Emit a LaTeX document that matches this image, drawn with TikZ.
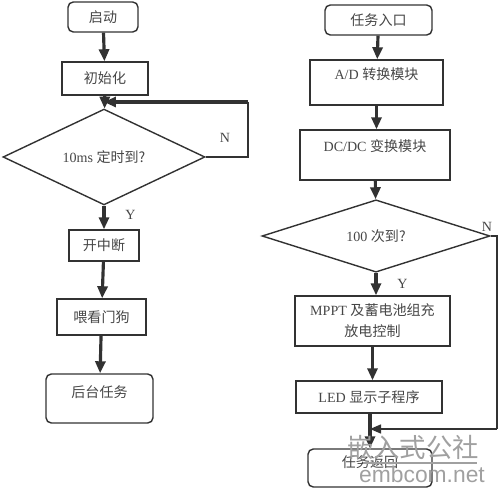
\documentclass[tikz,border=0pt]{standalone}
\usepackage{fontspec}
\setmainfont{Liberation Serif}
\newfontfamily\cjk{Noto Sans CJK SC}
\newfontfamily\marksans{Liberation Sans}
\usetikzlibrary{arrows.meta,positioning,shapes.geometric}
\definecolor{fcline}{RGB}{50,50,50}
\definecolor{fctext}{RGB}{70,70,70}
\definecolor{fcmark}{RGB}{160,160,160}
\newcommand{\zh}[1]{{\cjk #1}}

\begin{document}
\begin{tikzpicture}[x=0.02cm, y=-0.02cm,
  box/.style={draw=fcline, line width=0.8pt, text=fctext, font=\fontsize{8}{12}\selectfont, inner sep=1pt},
  term/.style={box, rounded corners=3pt},
  test/.style={box, diamond, inner sep=0pt},
  flow/.style={-{Triangle[length=2.4mm,width=2mm]}, line width=1.8pt, fcline},
  back/.style={line width=0.8pt, fcline},
  yn/.style={text=fctext, font=\fontsize{8}{10}\selectfont}]
\useasboundingbox (0,0) rectangle (500,489);

% main loop
\node[term, minimum width=1.4cm, minimum height=0.6cm] (start) at (103,17) {\zh{启动}};
\node[box, minimum width=1.72cm, minimum height=0.66cm] (init) at (105,78.5) {\zh{初始化}};
\node[test, minimum width=4.04cm, minimum height=1.4cm] (tick) at (104,157) {10ms \zh{定时到?}};
\node[box, minimum width=1.4cm, minimum height=0.62cm] (irq) at (104,245.5) {\zh{开中断}};
\node[box, minimum width=1.78cm, minimum height=0.72cm] (wdog) at (101.5,317) {\zh{喂看门狗}};
\node[term, minimum width=2.14cm, minimum height=0.98cm, text depth=0.28cm] (bgtask) at (99.5,398.5) {\zh{后台任务}};
\coordinate (tickin) at (104,102);

\draw[flow] (start) -- (init);
\draw[flow] (init) -- (tick);
\draw[back] (tick.east) -- (248,157) -- (248,102);
\draw[flow] (248,102) -- (tickin);
\draw[flow] (tick) -- (irq) node[yn, pos=0.4, right=8pt] {Y};
\draw[flow] (irq) -- (wdog);
\draw[flow] (wdog) -- (bgtask);
\node[yn] (tickno) at (225,138) {N};

% interrupt task
\node[term, minimum width=2.14cm, minimum height=0.6cm] (entry) at (378.5,20) {\zh{任务入口}};
\node[box, minimum width=2.66cm, minimum height=0.9cm, text depth=0.34cm] (adc) at (376.5,82.5) {A/D \zh{转换模块}};
\node[box, minimum width=3.0cm, minimum height=1.0cm, text depth=0.38cm] (dcdc) at (375,155) {DC/DC \zh{变换模块}};
\node[test, minimum width=4.56cm, minimum height=1.16cm] (count) at (376,236) {100 \zh{次到?}};
\node[box, minimum width=3.1cm, minimum height=1.0cm, align=center] (mppt) at (372.5,321) {MPPT \zh{及蓄电池组充}\\\zh{放电控制}};
\node[box, minimum width=2.92cm, minimum height=0.64cm] (led) at (369,397) {LED \zh{显示子程序}};
\node[term, minimum width=2.48cm, minimum height=0.76cm, text depth=0.26cm] (ret) at (370,468) {\zh{任务返回}};
\coordinate (retin) at (370,429);

\draw[flow] (entry) -- (adc);
\draw[flow] (adc) -- (adc |- dcdc.north);
\draw[flow] (dcdc) -- (count);
\draw[flow] (count) -- (count |- mppt.north) node[yn, pos=0.5, right=8pt] {Y};
\draw[flow] (mppt) -- (mppt.south |- led.north);
\draw[flow] (led.south -| retin) -- (ret.north -| retin);
\draw[back] (count.east) -- (497,236) -- (497,429);
\draw[back, -{Triangle[length=2.2mm,width=1.8mm]}] (497,429) -- (retin);
\node[yn] (countno) at (487,227) {N};

% watermark
\node[text=fcmark, font=\cjk\fontsize{15}{15}\selectfont] (markzh) at (413,447) {嵌入式公社};
\draw[fcmark, line width=0.8pt] (363,463) -- (477,463);
\node[text=fcmark, font=\marksans\fontsize{13}{13}\selectfont] (markurl) at (422,474) {embcom.net};
\end{tikzpicture}
\end{document}
